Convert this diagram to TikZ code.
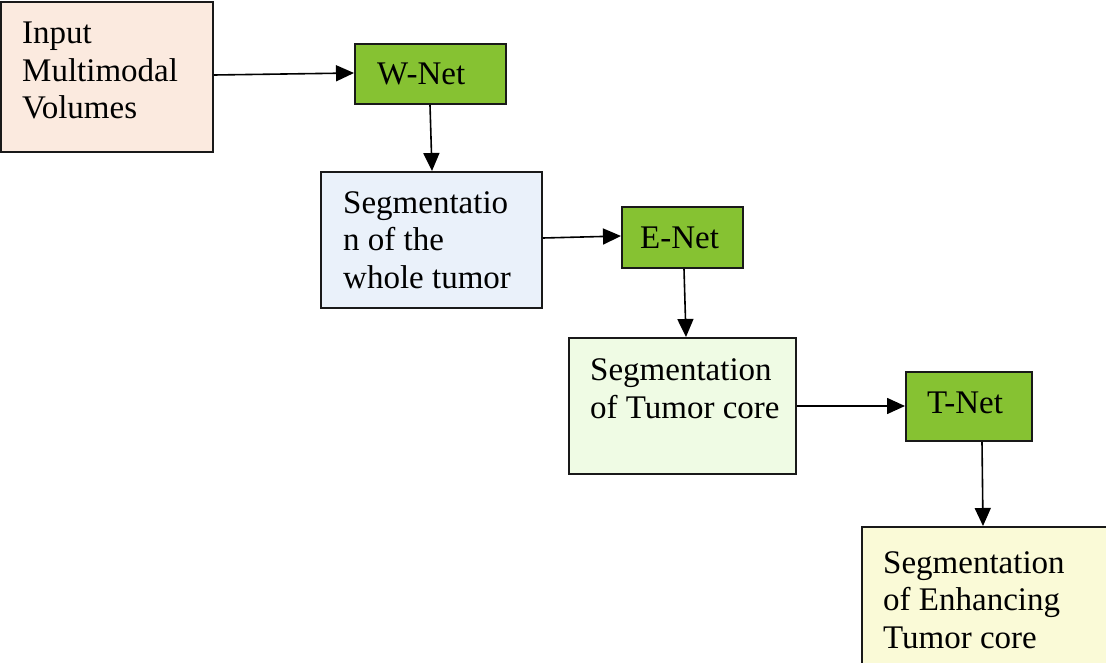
\documentclass[tikz,border=0pt]{standalone}
\usepackage{fontspec}
\setmainfont{Liberation Serif}
\usetikzlibrary{arrows.meta}
\definecolor{peach}{HTML}{FBEADF}
\definecolor{netgreen}{HTML}{86C232}
\definecolor{paleblue}{HTML}{EAF1FA}
\definecolor{palegreen}{HTML}{EFFBE4}
\definecolor{paleyellow}{HTML}{FAFAD7}
\tikzset{
  boxnode/.style={draw=black!90, line width=2pt, inner sep=0pt, anchor=north west},
  lbl/.style={anchor=base west, inner sep=0pt, align=left, font=\fontsize{33}{37.5}\selectfont},
  conn/.style={line width=1.6pt, -{Triangle[length=18pt,width=16pt]}}
}
\begin{document}
\begin{tikzpicture}[x=1pt,y=-1pt]
\useasboundingbox (0,0) rectangle (1106,663);
% boxes
\node[boxnode, fill=peach, minimum width=212pt, minimum height=150pt] (inp) at (0,1) {};
\node[boxnode, fill=netgreen, minimum width=151pt, minimum height=60pt] (wnet) at (354,43) {};
\node[boxnode, fill=paleblue, minimum width=221pt, minimum height=136pt] (whole) at (320,171) {};
\node[boxnode, fill=netgreen, minimum width=121pt, minimum height=61pt] (enet) at (621,206) {};
\node[boxnode, fill=palegreen, minimum width=227pt, minimum height=136pt] (core) at (568,337) {};
\node[boxnode, fill=netgreen, minimum width=126pt, minimum height=69pt] (tnet) at (905,371) {};
\node[boxnode, fill=paleyellow, minimum width=250pt, minimum height=138pt] (enh) at (861,526) {};
% labels (anchor = baseline of last line)
\node[lbl] (tinp) at (22,119) {Input\\Multimodal\\Volumes};
\node[lbl] (twnet) at (377,85) {W-Net};
\node[lbl] (twhole) at (343,288) {Segmentatio\\n of the\\whole tumor};
\node[lbl] (tenet) at (640,248) {E-Net};
\node[lbl] (tcore) at (590,418) {Segmentation\\of Tumor core};
\node[lbl] (ttnet) at (927,413) {T-Net};
\node[lbl] (tenh) at (883,648) {Segmentation\\of Enhancing\\Tumor core};
% connectors
\draw[conn] (inp.east |- 0,75) -- (wnet.west |- 0,73);
\draw[conn] (wnet.south -| 430,0) -- (whole.north -| 432,0);
\draw[conn] (whole.east |- 0,238) -- (enet.west |- 0,236);
\draw[conn] (enet.south -| 684,0) -- (core.north -| 686,0);
\draw[conn] (core.east |- 0,406) -- (tnet.west |- 0,406);
\draw[conn] (tnet.south -| 982,0) -- (enh.north -| 983,0);
\end{tikzpicture}
\end{document}
